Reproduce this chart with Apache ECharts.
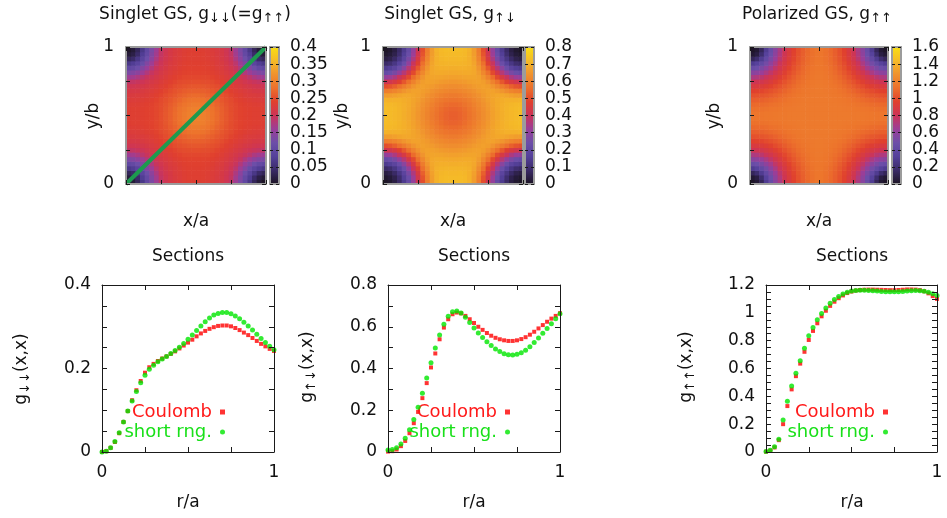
<!DOCTYPE html>
<html>
<head>
<meta charset="utf-8">
<title>Pair correlation maps and diagonal sections</title>
<script src="https://cdn.jsdelivr.net/npm/echarts@6/dist/echarts.min.js"></script>
<style>
  html, body { margin: 0; padding: 0; background: #ffffff; }
  #chart { width: 947px; height: 518px; }
</style>
</head>
<body>
<div id="chart"></div>
<script>
// ---------------------------------------------------------------------------
// Data
// ---------------------------------------------------------------------------

// Cell centres of one quarter of the unit cell (x/a, y/b in [0, 0.5]).
// The maps are symmetric about x = 1/2, y = 1/2 and the diagonal x = y,
// so each map is stored as the lower triangle of one quarter:
// row j holds the cells i = 0..j.
const quarterPos = [1/60, 3/60, 5/60, 7/60, 9/60, 11/60, 13/60, 15/60,
  17/60, 19/60, 21/60, 23/60, 25/60, 27/60, 29/60];

// Singlet GS, g_down,down
const gDownDown = [
  [0.002],
  [0.012, 0.021],
  [0.032, 0.042, 0.065],
  [0.065, 0.075, 0.092, 0.114],
  [0.100, 0.107, 0.121, 0.139, 0.158],
  [0.133, 0.139, 0.149, 0.163, 0.179, 0.195],
  [0.163, 0.167, 0.175, 0.187, 0.197, 0.206, 0.214],
  [0.191, 0.193, 0.197, 0.202, 0.209, 0.216, 0.221, 0.228],
  [0.205, 0.207, 0.210, 0.214, 0.218, 0.223, 0.228, 0.233, 0.238],
  [0.216, 0.217, 0.218, 0.222, 0.225, 0.229, 0.233, 0.238, 0.244, 0.250],
  [0.223, 0.224, 0.226, 0.227, 0.230, 0.234, 0.238, 0.243, 0.250, 0.255, 0.260],
  [0.228, 0.229, 0.230, 0.232, 0.235, 0.238, 0.242, 0.248, 0.253, 0.259, 0.266, 0.272],
  [0.232, 0.233, 0.234, 0.236, 0.238, 0.241, 0.245, 0.250, 0.256, 0.263, 0.270, 0.278, 0.285],
  [0.235, 0.236, 0.236, 0.238, 0.239, 0.242, 0.246, 0.251, 0.258, 0.266, 0.274, 0.283, 0.290, 0.296],
  [0.235, 0.236, 0.236, 0.238, 0.239, 0.242, 0.246, 0.252, 0.259, 0.267, 0.276, 0.285, 0.293, 0.299, 0.302]
];

// Singlet GS, g_up,down
const gUpDown = [
  [0.003],
  [0.013, 0.025],
  [0.038, 0.050, 0.080],
  [0.080, 0.094, 0.126, 0.171],
  [0.141, 0.156, 0.185, 0.232, 0.292],
  [0.217, 0.233, 0.263, 0.308, 0.364, 0.428],
  [0.309, 0.323, 0.351, 0.393, 0.439, 0.495, 0.554],
  [0.409, 0.420, 0.442, 0.474, 0.518, 0.563, 0.603, 0.639],
  [0.503, 0.513, 0.534, 0.560, 0.588, 0.617, 0.644, 0.662, 0.668],
  [0.591, 0.597, 0.610, 0.625, 0.645, 0.660, 0.669, 0.670, 0.662, 0.653],
  [0.660, 0.662, 0.668, 0.675, 0.680, 0.681, 0.676, 0.667, 0.656, 0.640, 0.625],
  [0.702, 0.699, 0.699, 0.699, 0.693, 0.686, 0.676, 0.663, 0.646, 0.628, 0.611, 0.594],
  [0.716, 0.714, 0.710, 0.704, 0.697, 0.687, 0.673, 0.656, 0.637, 0.618, 0.599, 0.581, 0.566],
  [0.723, 0.719, 0.714, 0.706, 0.697, 0.684, 0.669, 0.651, 0.631, 0.611, 0.590, 0.571, 0.555, 0.544],
  [0.723, 0.719, 0.713, 0.706, 0.695, 0.683, 0.667, 0.648, 0.628, 0.607, 0.586, 0.566, 0.550, 0.538, 0.532]
];

// Polarized GS, g_up,up
const gUpUp = [
  [0.009],
  [0.039, 0.076],
  [0.131, 0.187, 0.293],
  [0.293, 0.339, 0.418, 0.507],
  [0.453, 0.481, 0.532, 0.599, 0.676],
  [0.578, 0.599, 0.640, 0.694, 0.760, 0.829],
  [0.694, 0.711, 0.744, 0.792, 0.840, 0.889, 0.938],
  [0.807, 0.818, 0.840, 0.872, 0.906, 0.945, 0.984, 1.020],
  [0.889, 0.897, 0.915, 0.938, 0.966, 0.995, 1.024, 1.053, 1.081],
  [0.959, 0.966, 0.977, 0.995, 1.016, 1.037, 1.060, 1.083, 1.105, 1.123],
  [1.016, 1.020, 1.029, 1.041, 1.057, 1.074, 1.092, 1.109, 1.125, 1.140, 1.151],
  [1.060, 1.064, 1.071, 1.081, 1.092, 1.105, 1.117, 1.130, 1.143, 1.152, 1.158, 1.163],
  [1.097, 1.101, 1.105, 1.111, 1.119, 1.129, 1.138, 1.147, 1.154, 1.160, 1.163, 1.165, 1.165],
  [1.125, 1.127, 1.130, 1.135, 1.142, 1.147, 1.153, 1.157, 1.161, 1.164, 1.165, 1.165, 1.165, 1.165],
  [1.146, 1.147, 1.149, 1.152, 1.155, 1.158, 1.161, 1.163, 1.165, 1.165, 1.165, 1.165, 1.165, 1.165, 1.165]
];

// Colour-bar ranges and tick steps of the three maps
const mapMax = [0.4, 0.8, 1.6];
const mapStep = [0.05, 0.1, 0.2];

// Diagonal cut drawn on the first map
const diagX = [0, 1];
const diagY = [0, 1];

// Sections g(x,x) versus r/a
const rr = [0, 0.025, 0.05, 0.075, 0.1, 0.125, 0.15, 0.175, 0.2, 0.225, 0.25,
  0.275, 0.3, 0.325, 0.35, 0.375, 0.4, 0.425, 0.45, 0.475, 0.5,
  0.525, 0.55, 0.575, 0.6, 0.625, 0.65, 0.675, 0.7, 0.725, 0.75,
  0.775, 0.8, 0.825, 0.85, 0.875, 0.9, 0.925, 0.95, 0.975, 1];

const secDownDownCoulomb = [0, 0.002, 0.010, 0.024, 0.045, 0.072, 0.098, 0.124, 0.148, 0.170, 0.190,
  0.203, 0.211, 0.218, 0.224, 0.229, 0.235, 0.241, 0.248, 0.255, 0.262,
  0.269, 0.277, 0.284, 0.290, 0.295, 0.299, 0.302, 0.303, 0.303, 0.301,
  0.297, 0.292, 0.286, 0.280, 0.273, 0.266, 0.259, 0.253, 0.247, 0.242];
const secDownDownShort = [0, 0.002, 0.010, 0.025, 0.046, 0.072, 0.098, 0.122, 0.145, 0.166, 0.184,
  0.198, 0.208, 0.216, 0.223, 0.229, 0.236, 0.243, 0.251, 0.260, 0.270,
  0.280, 0.291, 0.302, 0.312, 0.321, 0.328, 0.332, 0.334, 0.334, 0.331,
  0.326, 0.319, 0.311, 0.302, 0.292, 0.282, 0.272, 0.262, 0.253, 0.245];

const secUpDownCoulomb = [0.002, 0.004, 0.012, 0.028, 0.053, 0.090, 0.138, 0.192, 0.258, 0.330, 0.405,
  0.472, 0.540, 0.596, 0.636, 0.660, 0.668, 0.664, 0.652, 0.636, 0.618,
  0.600, 0.585, 0.570, 0.557, 0.547, 0.540, 0.535, 0.532, 0.532, 0.535,
  0.541, 0.550, 0.562, 0.576, 0.592, 0.608, 0.624, 0.639, 0.652, 0.665];
const secUpDownShort = [0.010, 0.012, 0.020, 0.038, 0.066, 0.106, 0.156, 0.214, 0.282, 0.355, 0.428,
  0.498, 0.560, 0.612, 0.650, 0.672, 0.676, 0.666, 0.645, 0.620, 0.594,
  0.570, 0.548, 0.528, 0.510, 0.494, 0.481, 0.471, 0.466, 0.465, 0.468,
  0.476, 0.488, 0.504, 0.524, 0.546, 0.569, 0.592, 0.614, 0.638, 0.662];

const secUpUpCoulomb = [0.002, 0.010, 0.033, 0.085, 0.200, 0.330, 0.450, 0.545, 0.635, 0.720, 0.805,
  0.870, 0.925, 0.975, 1.015, 1.050, 1.080, 1.105, 1.125, 1.142, 1.153,
  1.160, 1.164, 1.166, 1.167, 1.167, 1.166, 1.165, 1.164, 1.163, 1.163,
  1.164, 1.166, 1.168, 1.168, 1.167, 1.163, 1.155, 1.140, 1.120, 1.100];
const secUpUpShort = [0.003, 0.012, 0.038, 0.092, 0.230, 0.365, 0.475, 0.565, 0.655, 0.745, 0.835,
  0.895, 0.950, 0.995, 1.035, 1.068, 1.095, 1.118, 1.136, 1.148, 1.156,
  1.160, 1.162, 1.162, 1.161, 1.159, 1.156, 1.154, 1.152, 1.151, 1.151,
  1.152, 1.154, 1.157, 1.159, 1.160, 1.159, 1.155, 1.148, 1.138, 1.125];

// Section y-axis ranges and minor tick steps
const secMax = [0.4, 0.8, 1.2];
const secStep = [0.05, 0.1, 0.05];

// ---------------------------------------------------------------------------
// Styling and layout
// ---------------------------------------------------------------------------
const FONT = '"DejaVu Sans", "Liberation Sans", sans-serif';
const FS = 17;
const TXT = '#111111';
const FRAME_GRAY = '#9c9c9c';
const RED = '#ff0000';
const GREEN = '#00e600';

// black -> purple -> magenta -> red -> orange -> yellow
const palette = ['#1c1424', '#3a2a66', '#54409a', '#6c4ea8', '#9a3e98', '#cc3458',
  '#e0402e', '#ec702c', '#f0922e', '#f5bb28', '#f8de14'];

const mapGrids = [
  { left: 126, top: 47, width: 140, height: 137 },
  { left: 383, top: 47, width: 140, height: 137 },
  { left: 750, top: 47, width: 138, height: 137 }
];
const barGrids = [
  { left: 270, top: 47, width: 9, height: 137 },
  { left: 525, top: 47, width: 9, height: 137 },
  { left: 892, top: 47, width: 9, height: 137 }
];
const secGrids = [
  { left: 102, top: 285, width: 172, height: 167 },
  { left: 388, top: 285, width: 172, height: 167 },
  { left: 766, top: 285, width: 171, height: 167 }
];

// ---------------------------------------------------------------------------
// Helpers
// ---------------------------------------------------------------------------
// Expand a stored triangle into the full set of [x, y, value] cells.
function unfoldTriangle(tri) {
  const n = quarterPos.length;
  const out = [];
  for (let J = 0; J < 2 * n; J++) {
    for (let I = 0; I < 2 * n; I++) {
      const i = I < n ? I : 2 * n - 1 - I;
      const j = J < n ? J : 2 * n - 1 - J;
      const x = I < n ? quarterPos[i] : 1 - quarterPos[i];
      const y = J < n ? quarterPos[j] : 1 - quarterPos[j];
      out.push([x, y, tri[Math.max(i, j)][Math.min(i, j)]]);
    }
  }
  return out;
}

const cellHalf = quarterPos[0];

function renderCell(params, api) {
  const x = api.value(0), y = api.value(1);
  const a = api.coord([x - cellHalf, y + cellHalf]);
  const b = api.coord([x + cellHalf, y - cellHalf]);
  return {
    type: 'rect',
    shape: { x: a[0], y: a[1], width: b[0] - a[0] + 0.6, height: b[1] - a[1] + 0.6 },
    style: { fill: api.visual('color') }
  };
}

function endsOnly(v) {
  return (v === 0 || v === 1) ? String(v) : '';
}
function everyPoint2(v) {
  const k = v / 0.2;
  return Math.abs(k - Math.round(k)) < 1e-6 ? String(+v.toFixed(1)) : '';
}
function barLabel(v) {
  return String(+v.toFixed(2));
}

const xAxis = [];
const yAxis = [];
function mkAxis(list, gridIndex, position, min, max, interval, o) {
  list.push({
    type: 'value', gridIndex, position, min, max, interval, z: 6,
    axisLine: { show: true, onZero: false, lineStyle: { color: o.line, width: o.lw } },
    axisTick: { show: o.tick > 0, inside: true, length: o.tick || 0, lineStyle: { color: '#1a1a1a', width: 1 } },
    axisLabel: {
      show: !!o.fmt, formatter: o.fmt, margin: o.margin || 10,
      fontFamily: FONT, fontSize: FS, color: TXT
    },
    splitLine: { show: false }
  });
  return list.length - 1;
}

const grid = [].concat(mapGrids, barGrids, secGrids);
const series = [];
const visualMap = [];

// Maps
const mapData = [gDownDown, gUpDown, gUpUp];
const mapAxes = [];
mapData.forEach((tri, k) => {
  const gi = k;
  const o = { line: FRAME_GRAY, lw: 2, tick: 4 };
  const xb = mkAxis(xAxis, gi, 'bottom', 0, 1, 0.25, o);
  mkAxis(xAxis, gi, 'top', 0, 1, 0.25, o);
  const yl = mkAxis(yAxis, gi, 'left', 0, 1, 0.25, Object.assign({ fmt: endsOnly, margin: 12 }, o));
  mkAxis(yAxis, gi, 'right', 0, 1, 0.25, o);
  mapAxes.push([xb, yl]);
  series.push({
    type: 'custom', name: 'map' + k, xAxisIndex: xb, yAxisIndex: yl,
    data: unfoldTriangle(tri), encode: { x: 0, y: 1 }, clip: true, silent: true,
    renderItem: renderCell, z: 2
  });
  visualMap.push({
    type: 'continuous', show: false, min: 0, max: mapMax[k], dimension: 2,
    seriesIndex: series.length - 1, inRange: { color: palette }
  });
});

// Diagonal cut on the first map
series.push({
  type: 'line', name: 'diagonal', xAxisIndex: mapAxes[0][0], yAxisIndex: mapAxes[0][1],
  data: diagX.map((x, i) => [x, diagY[i]]), symbol: 'none', silent: true, clip: true,
  lineStyle: { color: '#1d9a4e', width: 4 }, z: 4
});

// Colour bars
const barGradient = () => new echarts.graphic.LinearGradient(0, 1, 0, 0,
  palette.map((c, i) => ({ offset: i / (palette.length - 1), color: c })));
mapMax.forEach((m, k) => {
  const gi = 3 + k;
  const frame = { line: FRAME_GRAY, lw: 2, tick: 0 };
  const xb = mkAxis(xAxis, gi, 'bottom', 0, 1, 1, frame);
  mkAxis(xAxis, gi, 'top', 0, 1, 1, frame);
  mkAxis(yAxis, gi, 'left', 0, m, mapStep[k], { line: FRAME_GRAY, lw: 2, tick: 3 });
  const yr = mkAxis(yAxis, gi, 'right', 0, m, mapStep[k],
    { line: FRAME_GRAY, lw: 2, tick: 3, fmt: barLabel, margin: 11 });
  series.push({
    type: 'custom', name: 'bar' + k, xAxisIndex: xb, yAxisIndex: yr,
    data: [[0, 0]], clip: true, silent: true, z: 2,
    renderItem: (params, api) => {
      const a = api.coord([0, m]);
      const b = api.coord([1, 0]);
      return {
        type: 'rect',
        shape: { x: a[0], y: a[1], width: b[0] - a[0], height: b[1] - a[1] },
        style: { fill: barGradient() }
      };
    }
  });
});

// Sections
const secCoulomb = [secDownDownCoulomb, secUpDownCoulomb, secUpUpCoulomb];
const secShort = [secDownDownShort, secUpDownShort, secUpUpShort];
secGrids.forEach((g, k) => {
  const gi = 6 + k;
  const o = { line: '#1a1a1a', lw: 1, tick: 5 };
  const xb = mkAxis(xAxis, gi, 'bottom', 0, 1, 0.25, Object.assign({ fmt: endsOnly, margin: 12 }, o));
  mkAxis(xAxis, gi, 'top', 0, 1, 0.25, o);
  const yl = mkAxis(yAxis, gi, 'left', 0, secMax[k], secStep[k], Object.assign({ fmt: everyPoint2, margin: 11 }, o));
  mkAxis(yAxis, gi, 'right', 0, secMax[k], secStep[k], o);
  series.push({
    type: 'scatter', name: 'Coulomb', xAxisIndex: xb, yAxisIndex: yl,
    data: rr.map((r, i) => [r, secCoulomb[k][i]]),
    symbol: 'rect', symbolSize: 4, itemStyle: { color: RED }, z: 3, silent: true
  });
  series.push({
    type: 'scatter', name: 'short rng.', xAxisIndex: xb, yAxisIndex: yl,
    data: rr.map((r, i) => [r, secShort[k][i]]),
    symbol: 'circle', symbolSize: 5, itemStyle: { color: GREEN }, z: 4, silent: true
  });
});

const legendRight = [722, 437, 59];
const legend = legendRight.map(r => ({
  orient: 'vertical', align: 'right', right: r, top: 403, padding: 0,
  itemWidth: 5, itemHeight: 5, itemGap: 2, selectedMode: false,
  textStyle: { fontFamily: FONT, fontSize: 18, padding: [0, 3, 0, 0] },
  data: [
    { name: 'Coulomb', icon: 'rect', itemStyle: { color: RED }, textStyle: { color: '#ff1a1a' } },
    { name: 'short rng.', icon: 'circle', itemStyle: { color: GREEN }, textStyle: { color: '#19e019' } }
  ]
}));

// Text: titles and axis names
const subStyle = { fontFamily: FONT, fontSize: 13, lineHeight: 8, verticalAlign: 'bottom', fill: TXT };
function label(x, y, text, rotate) {
  return {
    type: 'text', x, y, rotation: rotate ? Math.PI / 2 : 0, silent: true,
    style: {
      text, fill: TXT, font: FS + 'px ' + FONT, lineHeight: 20,
      align: 'center', verticalAlign: 'middle',
      rich: { s: subStyle }
    }
  };
}
const graphic = [
  label(195, 15, 'Singlet GS, g{s|↓↓}(=g{s|↑↑})'),
  label(450, 15, 'Singlet GS, g{s|↑↓}'),
  label(817, 15, 'Polarized GS, g{s|↑↑}'),
  label(196, 222, 'x/a'), label(453, 222, 'x/a'), label(819, 222, 'x/a'),
  label(94, 116, 'y/b', true), label(343, 116, 'y/b', true), label(715, 116, 'y/b', true),
  label(188, 257, 'Sections'), label(474, 257, 'Sections'), label(852, 257, 'Sections'),
  label(188, 503, 'r/a'), label(474, 503, 'r/a'), label(852, 503, 'r/a'),
  label(22, 369, 'g{s|↓↓}(x,x)', true),
  label(308, 367, 'g{s|↑↓}(x,x)', true),
  label(687, 367, 'g{s|↑↑}(x,x)', true)
];

const chart = echarts.init(document.getElementById('chart'), null, { renderer: 'canvas' });
chart.setOption({
  backgroundColor: '#ffffff',
  animation: false,
  grid, xAxis, yAxis, series, visualMap, legend, graphic
});
</script>
</body>
</html>
